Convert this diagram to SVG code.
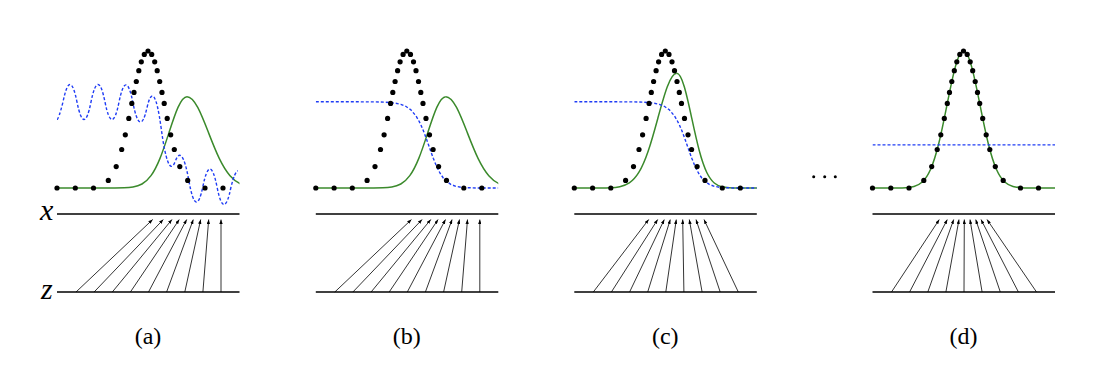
<svg xmlns="http://www.w3.org/2000/svg" xmlns:xlink="http://www.w3.org/1999/xlink" width="1102" height="368" viewBox="0 0 1102 368">
<style>
.axis{stroke:#000;stroke-width:1.6;fill:none}
.arr{stroke:#000;stroke-width:0.8;fill:none;marker-end:url(#ah)}
.pg{fill:none;stroke:#3b8a2c;stroke-width:1.5}
.dd{fill:none;stroke:#1f3cf5;stroke-width:1.4;stroke-dasharray:3 2}
.dot{fill:#000}
.lbl{font-family:'Liberation Serif',serif;font-size:24px;fill:#000;text-anchor:middle}
.var{font-family:'Liberation Serif',serif;font-style:italic;font-size:30px;fill:#000}
</style>
<defs>
<marker id="ah" viewBox="0 0 8 6" refX="8" refY="3" markerWidth="4.5" markerHeight="3.4" markerUnits="userSpaceOnUse" orient="auto"><path d="M0,0 L8,3 L0,6 z" fill="#000"/></marker>
<clipPath id="clipP"><rect x="0" y="0" width="182.5" height="368"/></clipPath>
<path id="gL" vector-effect="non-scaling-stroke" d="M -10 0 L -4 -0.000335 C -3.8333 -0.000558 -3.6667 -0.000910 -3.5 -0.002187 C -3.3333 -0.003464 -3.1667 -0.005554 -3 -0.011109 C -2.8333 -0.016664 -2.6667 -0.025630 -2.5 -0.043937 C -2.3333 -0.062244 -2.1667 -0.090223 -2 -0.135335 C -1.8333 -0.180447 -1.6667 -0.243488 -1.5 -0.324652 C -1.3333 -0.405816 -1.1667 -0.505442 -1 -0.606531 C -0.8333 -0.707620 -0.6667 -0.808955 -0.5 -0.882497 C -0.3333 -0.956039 -0.1667 -1 0 -1"/>
<path id="gR" vector-effect="non-scaling-stroke" d="M 0 -1 C 0.1667 -1 0.3333 -0.956039 0.5 -0.882497 C 0.6667 -0.808955 0.8333 -0.707620 1 -0.606531 C 1.1667 -0.505442 1.3333 -0.405816 1.5 -0.324652 C 1.6667 -0.243488 1.8333 -0.180447 2 -0.135335 C 2.1667 -0.090223 2.3333 -0.062244 2.5 -0.043937 C 2.6667 -0.025630 2.8333 -0.016664 3 -0.011109 C 3.1667 -0.005554 3.3333 -0.003464 3.5 -0.002187 C 3.6667 -0.000910 3.8333 -0.000558 4 -0.000335 L 10 0"/>
<path id="dcurve" d="M 0 101.8 L 40 101.8 L 60 101.9 L 70 102.2 L 80 103.2 L 85 104.3 L 90 106.3 L 95 109.8 L 100 115.7 L 102.5 119.8 L 105 124.7 L 107.5 130.6 L 110 137.2 L 112.5 144.2 L 115 151.4 L 117.5 158.3 L 120 164.5 L 122.5 170 L 125 174.4 L 127.5 178 L 130 180.7 L 135 184.4 L 140 186.3 L 145 187.2 L 150 187.7 L 160 187.95 L 182.5 188"/>
<g id="pdata">
<circle class="dot" cx="0" cy="188" r="2.6"/><circle class="dot" cx="18.3" cy="188" r="2.6"/><circle class="dot" cx="36.5" cy="188" r="2.6"/><circle class="dot" cx="51.3" cy="180.4" r="2.6"/><circle class="dot" cx="59.2" cy="166.6" r="2.6"/><circle class="dot" cx="64.7" cy="149.5" r="2.6"/><circle class="dot" cx="68.3" cy="134.8" r="2.6"/><circle class="dot" cx="71.8" cy="118.4" r="2.6"/><circle class="dot" cx="74.8" cy="103.4" r="2.6"/><circle class="dot" cx="77" cy="92.4" r="2.6"/><circle class="dot" cx="79.3" cy="81.5" r="2.6"/><circle class="dot" cx="81.8" cy="70.7" r="2.6"/><circle class="dot" cx="84.3" cy="61.8" r="2.6"/><circle class="dot" cx="87.3" cy="54.4" r="2.6"/><circle class="dot" cx="91" cy="51" r="2.6"/><circle class="dot" cx="94.7" cy="54.4" r="2.6"/><circle class="dot" cx="97.7" cy="61.8" r="2.6"/><circle class="dot" cx="100.2" cy="70.7" r="2.6"/><circle class="dot" cx="102.7" cy="81.5" r="2.6"/><circle class="dot" cx="105" cy="92.4" r="2.6"/><circle class="dot" cx="107.2" cy="103.4" r="2.6"/><circle class="dot" cx="110.2" cy="118.4" r="2.6"/><circle class="dot" cx="113.7" cy="134.8" r="2.6"/><circle class="dot" cx="117.3" cy="149.5" r="2.6"/><circle class="dot" cx="122.8" cy="166.6" r="2.6"/><circle class="dot" cx="130.7" cy="180.4" r="2.6"/><circle class="dot" cx="148" cy="188" r="2.6"/><circle class="dot" cx="166" cy="188" r="2.6"/>
</g>
</defs>

<g id="labels-xz">
<text class="var" x="40" y="220" font-family="Liberation Serif, serif" font-style="italic">x</text>
<text class="var" x="41" y="299" font-family="Liberation Serif, serif" font-style="italic">z</text>
</g>

<g id="panel-a" transform="translate(57,0)">
<line class="axis" x1="0" y1="214" x2="182.5" y2="214"/>
<line class="axis" x1="0" y1="292" x2="182.5" y2="292"/>
<g clip-path="url(#clipP)">
<use href="#gL" class="pg" transform="translate(130,188) scale(18,91.3)"/>
<use href="#gR" class="pg" transform="translate(130,188) scale(21.5,91.3)"/>
<path class="dd" d="M 0 119.4 Q 1.5 119.5 6 102 Q 13 67 20 102 Q 27 137 34 102 Q 41 67 48 102 Q 55 136.9 62 102.2 Q 69 67.15 76 103.1 Q 83 138.6 90 107.7 Q 97 76.85 104 127 Q 111 179.5 118 162 Q 125 142.15 132 181.3 Q 139 220.35 146 186 Q 153 151.8 160 186.8 Q 167 222.1 174 187 Q 178 171 181 171"/>
</g>
<use href="#pdata"/>
<text class="lbl" x="91" y="344" font-family="Liberation Serif, serif">(a)</text>
</g>

<g id="panel-b" transform="translate(315.8,0)">
<line class="axis" x1="0" y1="214" x2="182.5" y2="214"/>
<line class="axis" x1="0" y1="292" x2="182.5" y2="292"/>
<g clip-path="url(#clipP)">
<use href="#gL" class="pg" transform="translate(130,188) scale(18,91.3)"/>
<use href="#gR" class="pg" transform="translate(130,188) scale(21.5,91.3)"/>
<use href="#dcurve" class="dd"/>
</g>
<use href="#pdata"/>
<text class="lbl" x="91" y="344" font-family="Liberation Serif, serif">(b)</text>
</g>

<g id="panel-c" transform="translate(574.3,0)">
<line class="axis" x1="0" y1="214" x2="182.5" y2="214"/>
<line class="axis" x1="0" y1="292" x2="182.5" y2="292"/>
<g clip-path="url(#clipP)">
<use href="#gL" class="pg" transform="translate(102.5,188) scale(19,114.7)"/>
<use href="#gR" class="pg" transform="translate(102.5,188) scale(15,114.7)"/>
<use href="#dcurve" class="dd"/>
</g>
<use href="#pdata"/>
<text class="lbl" x="91" y="344" font-family="Liberation Serif, serif">(c)</text>
</g>

<g id="ellipsis">
<circle cx="813.7" cy="176.7" r="1.5" fill="#000"/>
<circle cx="824.7" cy="176.7" r="1.5" fill="#000"/>
<circle cx="835.3" cy="176.7" r="1.5" fill="#000"/>
</g>

<g id="panel-d" transform="translate(872.5,0)">
<line class="axis" x1="0" y1="214" x2="182.5" y2="214"/>
<line class="axis" x1="0" y1="292" x2="182.5" y2="292"/>
<g clip-path="url(#clipP)">
<use href="#gL" class="pg" transform="translate(91,188) scale(16.5,137)"/>
<use href="#gR" class="pg" transform="translate(91,188) scale(16.5,137)"/>
<line class="dd" x1="0" y1="144.9" x2="182.5" y2="144.9"/>
</g>
<use href="#pdata"/>
<text class="lbl" x="91" y="344" font-family="Liberation Serif, serif">(d)</text>
</g>

<g id="connectors">
<g transform="translate(57,0)">
<line class="arr" x1="19" y1="292" x2="95.7" y2="219.5"/><line class="arr" x1="37.1" y1="292" x2="106.3" y2="219.5"/><line class="arr" x1="55.3" y1="292" x2="115" y2="219.5"/><line class="arr" x1="73.4" y1="292" x2="122.3" y2="219.5"/><line class="arr" x1="91.5" y1="292" x2="129.7" y2="219.5"/><line class="arr" x1="109.6" y1="292" x2="136.3" y2="219.5"/><line class="arr" x1="127.8" y1="292" x2="143.7" y2="219.5"/><line class="arr" x1="145.9" y1="292" x2="151.7" y2="219.5"/><line class="arr" x1="164" y1="292" x2="164" y2="219.5"/>
</g>
<g transform="translate(315.8,0)">
<line class="arr" x1="19" y1="292" x2="95.7" y2="219.5"/><line class="arr" x1="37.1" y1="292" x2="106.3" y2="219.5"/><line class="arr" x1="55.3" y1="292" x2="115" y2="219.5"/><line class="arr" x1="73.4" y1="292" x2="122.3" y2="219.5"/><line class="arr" x1="91.5" y1="292" x2="129.7" y2="219.5"/><line class="arr" x1="109.6" y1="292" x2="136.3" y2="219.5"/><line class="arr" x1="127.8" y1="292" x2="143.7" y2="219.5"/><line class="arr" x1="145.9" y1="292" x2="151.7" y2="219.5"/><line class="arr" x1="164" y1="292" x2="164" y2="219.5"/>
</g>
<g transform="translate(574.3,0)">
<line class="arr" x1="19" y1="292" x2="74.4" y2="219.5"/><line class="arr" x1="37.1" y1="292" x2="83.4" y2="219.5"/><line class="arr" x1="55.3" y1="292" x2="90" y2="219.5"/><line class="arr" x1="73.4" y1="292" x2="96" y2="219.5"/><line class="arr" x1="91.5" y1="292" x2="102" y2="219.5"/><line class="arr" x1="109.6" y1="292" x2="108.4" y2="219.5"/><line class="arr" x1="127.8" y1="292" x2="115" y2="219.5"/><line class="arr" x1="145.9" y1="292" x2="121.7" y2="219.5"/><line class="arr" x1="164" y1="292" x2="129.7" y2="219.5"/>
</g>
<g transform="translate(872.5,0)">
<line class="arr" x1="19" y1="292" x2="66.8" y2="219.5"/><line class="arr" x1="37.1" y1="292" x2="74.8" y2="219.5"/><line class="arr" x1="55.3" y1="292" x2="81.2" y2="219.5"/><line class="arr" x1="73.4" y1="292" x2="86.5" y2="219.5"/><line class="arr" x1="91.5" y1="292" x2="91.8" y2="219.5"/><line class="arr" x1="109.6" y1="292" x2="97.5" y2="219.5"/><line class="arr" x1="127.8" y1="292" x2="103.2" y2="219.5"/><line class="arr" x1="145.9" y1="292" x2="108.5" y2="219.5"/><line class="arr" x1="164" y1="292" x2="114.5" y2="219.5"/>
</g>
</g>
</svg>
